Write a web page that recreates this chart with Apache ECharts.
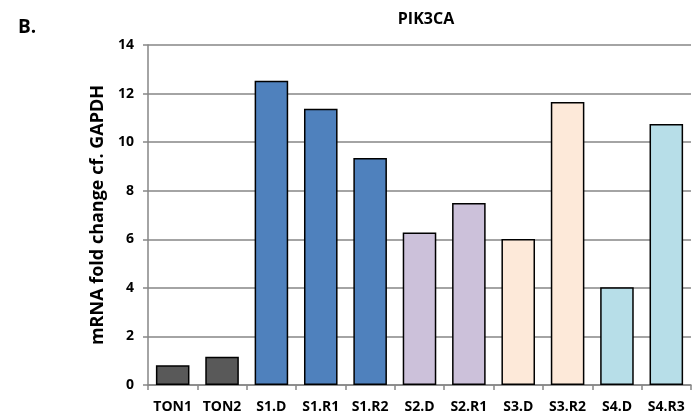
<!DOCTYPE html>
<html>
<head>
<meta charset="utf-8">
<script src="https://cdn.jsdelivr.net/npm/echarts@6/dist/echarts.min.js"></script>
<style>html,body{margin:0;padding:0;background:#fff}#c{width:693px;height:419px}</style>
</head>
<body>
<div id="c"></div>
<script>
var categories = ['TON1','TON2','S1.D','S1.R1','S1.R2','S2.D','S2.R1','S3.D','S3.R2','S4.D','S4.R3'];
var values = [0.81, 1.16, 12.53, 11.37, 9.35, 6.28, 7.49, 6.01, 11.65, 4.02, 10.75];
var barColors = ['#595959','#595959','#4F81BD','#4F81BD','#4F81BD','#CCC1DA','#CCC1DA','#FDE9D9','#FDE9D9','#B7DEE8','#B7DEE8'];
var yTicks = [0,2,4,6,8,10,12,14];

var font = '"Open Sans", "Liberation Sans", sans-serif';
var chart = echarts.init(document.getElementById('c'), null, {renderer:'canvas'});
chart.setOption({
  animation: false,
  backgroundColor: '#fff',
  title: [
    {text: 'PIK3CA', left: 421, top: 6, textAlign: 'center',
     textStyle: {fontFamily: font, fontWeight: 'bold', fontSize: 16, color: '#000'}},
    {text: 'B.', left: 13, top: 13,
     textStyle: {fontFamily: font, fontWeight: 'bold', fontSize: 19, color: '#000'}}
  ],
  grid: {left: 148, right: 2, top: 45, bottom: 34, containLabel: false},
  xAxis: {
    type: 'category', data: categories,
    axisLine: {lineStyle: {color: '#868686', width: 1.5}},
    axisTick: {show: true, alignWithLabel: false, length: 5, lineStyle: {color: '#868686', width: 1.5}},
    axisLabel: {fontFamily: font, fontWeight: 'bold', fontSize: 14, color: '#000', margin: 15, interval: 0}
  },
  yAxis: {
    type: 'value', min: 0, max: 14, interval: 2,
    name: 'mRNA fold change cf. GAPDH', nameLocation: 'middle', nameGap: 39,
    nameTextStyle: {fontFamily: font, fontWeight: 'bold', fontSize: 18, color: '#000'},
    axisLine: {show: true, lineStyle: {color: '#868686', width: 1.5}},
    axisTick: {show: true, length: 5, lineStyle: {color: '#868686', width: 1.5}},
    splitLine: {lineStyle: {color: '#868686', width: 1.5}},
    axisLabel: {fontFamily: font, fontWeight: 'bold', fontSize: 14, color: '#000', margin: 14,
      formatter: function(v){ return yTicks.indexOf(v) >= 0 ? String(v) : ''; }}
  },
  series: [{
    type: 'bar',
    barCategoryGap: '32%',
    data: values.map(function(v, i){
      return {value: v, itemStyle: {color: barColors[i], borderColor: '#000', borderWidth: 1.5}};
    })
  }]
});
</script>
</body>
</html>
